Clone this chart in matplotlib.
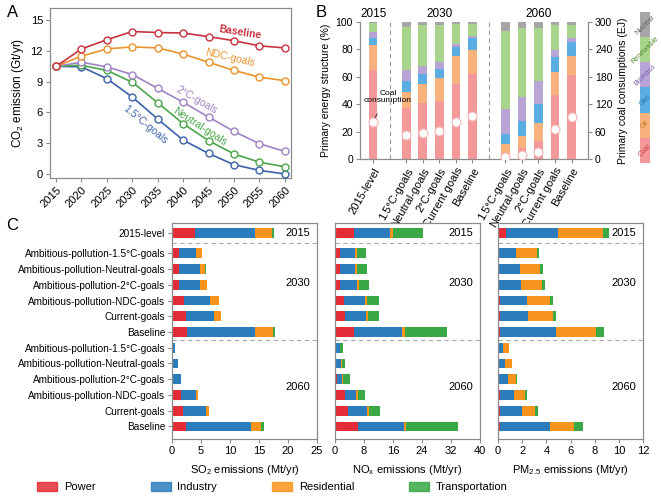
import matplotlib
matplotlib.use('Agg')
import matplotlib.pyplot as plt
import matplotlib.patches as mpatches
import numpy as np

plt.rcParams['font.family'] = ['Liberation Sans', 'DejaVu Sans']
plt.rcParams['mathtext.default'] = 'regular'
plt.rcParams['font.size'] = 8

# ---------------- data: panel A ----------------
years = [2015, 2020, 2025, 2030, 2035, 2040, 2045, 2050, 2055, 2060]
co2_baseline = [10.5, 12.2, 13.1, 13.9, 13.8, 13.75, 13.4, 13.0, 12.5, 12.3]
co2_ndc = [10.5, 11.5, 12.2, 12.4, 12.3, 11.7, 10.9, 10.1, 9.45, 9.1]
co2_2c = [10.5, 10.9, 10.45, 9.7, 8.35, 7.0, 5.55, 4.15, 2.95, 2.2]
co2_neutral = [10.5, 10.6, 10.1, 8.95, 6.95, 4.9, 3.25, 1.95, 1.15, 0.7]
co2_15c = [10.5, 10.45, 9.3, 7.5, 5.35, 3.3, 2.0, 0.9, 0.35, 0.0]

# ---------------- data: panel B ----------------
b_labels = ['2015-level',
            '1.5°C-goals', 'Neutral-goals', '2°C-goals', 'Current goals', 'Baseline',
            '1.5°C-goals', 'Neutral-goals', '2°C-goals', 'Current goals', 'Baseline']
fuels = ['Coal', 'Oil', 'Gas', 'Biomass', 'Renewable', 'Nuclear']
share_coal = [65, 37.5, 41, 42, 55, 62, 4.4, 8, 12.8, 46.7, 61.3]
share_oil = [18, 11.5, 14, 17, 20, 17.4, 6.6, 9, 13.8, 16.7, 13.7]
share_gas = [5.4, 8, 7, 7, 7, 9, 7.4, 11, 13.4, 11.2, 10.5]
share_biomass = [4.3, 8, 6, 4.7, 2, 1.2, 18.2, 17.5, 17, 4.8, 2.5]
share_renew = [6.3, 31.4, 29.6, 26.9, 14.3, 8.7, 56.9, 50.5, 39, 18.2, 9.6]
share_nuclear = [1.0, 3.6, 2.4, 2.4, 1.7, 1.7, 6.5, 4, 4, 2.4, 2.4]
coal_use = [80, 53, 58, 61, 80, 94, 5, 9, 15, 65, 93]

# ---------------- data: panel C ----------------
c_labels = ['2015-level',
            'Ambitious-pollution-1.5°C-goals', 'Ambitious-pollution-Neutral-goals',
            'Ambitious-pollution-2°C-goals', 'Ambitious-pollution-NDC-goals',
            'Current-goals', 'Baseline',
            'Ambitious-pollution-1.5°C-goals', 'Ambitious-pollution-Neutral-goals',
            'Ambitious-pollution-2°C-goals', 'Ambitious-pollution-NDC-goals',
            'Current-goals', 'Baseline']
sectors = ['Power', 'Industry', 'Residential', 'Transportation']

so2_power = [3.9, 1.15, 1.15, 1.15, 2.1, 2.35, 2.6, 0.05, 0.05, 0.05, 1.5, 1.9, 2.5]
so2_industry = [10.35, 3.05, 3.6, 3.75, 4.4, 4.85, 11.65, 0.45, 0.95, 1.5, 2.64, 4.0, 11.2]
so2_resid = [3.0, 0.9, 1.0, 1.1, 1.55, 1.25, 3.15, 0.0, 0.0, 0.0, 0.36, 0.5, 1.7]
so2_trans = [0.4, 0.05, 0.05, 0.05, 0.05, 0.05, 0.4, 0.0, 0.0, 0.0, 0.0, 0.0, 0.5]

nox_power = [5.2, 1.4, 1.4, 1.4, 2.6, 2.75, 5.2, 0.3, 0.3, 0.65, 2.75, 3.5, 6.4]
nox_industry = [10.0, 4.1, 4.2, 4.7, 5.6, 5.75, 13.2, 1.1, 1.45, 1.25, 3.05, 5.2, 12.6]
nox_resid = [0.9, 0.6, 0.6, 0.5, 0.6, 0.6, 0.8, 0.1, 0.15, 0.4, 0.5, 0.7, 0.5]
nox_trans = [8.1, 2.45, 2.6, 2.8, 3.2, 3.0, 11.6, 0.7, 0.95, 1.75, 2.1, 2.9, 14.5]

pm_power = [0.66, 0.05, 0.05, 0.05, 0.2, 0.2, 0.2, 0.02, 0.02, 0.02, 0.15, 0.2, 0.2]
pm_industry = [4.34, 1.45, 1.8, 1.85, 2.2, 2.3, 4.6, 0.38, 0.58, 0.78, 1.2, 1.8, 4.1]
pm_resid = [3.65, 1.7, 1.6, 1.75, 1.9, 2.05, 3.3, 0.5, 0.55, 0.7, 0.85, 1.05, 1.95]
pm_trans = [0.5, 0.2, 0.25, 0.25, 0.25, 0.25, 0.7, 0.0, 0.05, 0.1, 0.2, 0.25, 0.8]

# ---------------- styling ----------------
spine_col = '#8c8c8c'
line_cols = {'Baseline': '#c8323f', 'NDC-goals': '#e8932c', '2°C-goals': '#a083c4',
             'Neutral-goals': '#4aa64a', '1.5°C-goals': '#3b62a8'}
fuel_cols = ['#f4999a', '#f7b27e', '#5aaee3', '#b8a5d6', '#a9d48b', '#a6a6a6']
fuel_text_cols = ['#c93a40', '#c97422', '#2a78b4', '#7a5fa8', '#4f8e30', '#5d5d5d']
sector_cols = ['#e32c35', '#2b7cbd', '#f7941d', '#3aa845']

fig = plt.figure(figsize=(6.61, 4.96), dpi=100)


def style_spines(ax, which=('left', 'right', 'top', 'bottom')):
    for side, sp in ax.spines.items():
        sp.set_visible(side in which)
        sp.set_color(spine_col)
        sp.set_linewidth(0.9)
    ax.tick_params(color=spine_col, length=3, width=0.8, labelsize=8, pad=2)


# ---------------- panel A ----------------
axA = fig.add_axes([0.0756, 0.641, 0.3646, 0.343])
series = [('Baseline', co2_baseline), ('NDC-goals', co2_ndc), ('2°C-goals', co2_2c),
          ('Neutral-goals', co2_neutral), ('1.5°C-goals', co2_15c)]
for name, vals in series[::-1]:
    axA.plot(years, vals, color=line_cols[name], lw=1.2, marker='o', ms=5,
             mfc='white', mec=line_cols[name], mew=1.0, zorder=3)
axA.set_xlim(2013.8, 2061.2)
axA.set_ylim(-0.4, 16.2)
axA.set_yticks([0, 3, 6, 9, 12, 15])
axA.set_xticks(years)
axA.set_xticklabels([str(y) for y in years], rotation=45, ha='right', rotation_mode='anchor')
axA.set_ylabel('CO$_2$ emission (Gt/yr)', fontsize=8.5, labelpad=3)
style_spines(axA)
axA.tick_params(labelsize=8)

label_pos = {'Baseline': (2051.1, 13.8, -9), 'NDC-goals': (2049.2, 11.3, -13),
             '2°C-goals': (2042.7, 7.2, -30), 'Neutral-goals': (2043.3, 4.6, -33),
             '1.5°C-goals': (2032.5, 4.8, -40)}
for name, (x, y, rot) in label_pos.items():
    axA.text(x, y, name, color=line_cols[name], rotation=rot, ha='center', va='center',
             fontsize=7.5, fontweight='bold' if name == 'Baseline' else 'normal')

# ---------------- panel B ----------------
axB = fig.add_axes([0.5446, 0.6794, 0.345, 0.2762])
xb = np.array([0, 2, 3, 4, 5, 6, 8, 9, 10, 11, 12])
shares = [share_coal, share_oil, share_gas, share_biomass, share_renew, share_nuclear]
bottom = np.zeros(len(xb))
for vals, col in zip(shares, fuel_cols):
    axB.bar(xb, vals, width=0.52, bottom=bottom, color=col, zorder=2)
    bottom += np.array(vals)
axB.set_xlim(-0.8, 13.0)
axB.set_ylim(0, 100)
axB.set_yticks([0, 20, 40, 60, 80, 100])
axB.set_xticks(xb)
axB.set_xticklabels(b_labels, rotation=60, ha='right', rotation_mode='anchor', fontsize=6.5)
axB.set_ylabel('Primary energy structure (%)', fontsize=7.5, labelpad=3)
style_spines(axB, ('left', 'bottom'))
axB.tick_params(axis='y', labelsize=7.5)
for xs in (1, 7):
    axB.plot([xs, xs], [0, 101], ls=(0, (4, 3)), color='#9a9a9a', lw=0.8,
             clip_on=False, zorder=1)
for xp, yr in ((0, '2015'), (4, '2030'), (10, '2060')):
    axB.text(xp, 101.5, yr, ha='center', va='bottom', fontsize=8.5)

axB2 = axB.twinx()
axB2.set_ylim(0, 300)
axB2.set_yticks([0, 60, 120, 180, 240, 300])
axB2.plot(xb, coal_use, 'o', ms=6.5, mfc='white', mec='#f4b7b7', mew=0.8, zorder=5)
style_spines(axB2, ('right',))
axB2.tick_params(axis='y', labelsize=7.5)
axB2.set_ylabel('Primary coal consumptions (EJ)', fontsize=7.5, labelpad=4)
axB2.annotate('Coal\nconsumption', xy=(xb[0], coal_use[0] + 5), xytext=(0.9, 135),
              textcoords='data', ha='center', va='center', fontsize=6, linespacing=0.95,
              arrowprops=dict(arrowstyle='-', color='#333333', lw=0.7,
                              shrinkA=6, shrinkB=1))

# fuel colour key
axK = fig.add_axes([0.9685, 0.6714, 0.0151, 0.3044])
for i, (name, col, tcol) in enumerate(zip(fuels, fuel_cols, fuel_text_cols)):
    axK.bar(0, 1, bottom=i, width=1, color=col)
    axK.text(0, i + 0.5, name, rotation=45, ha='center', va='center', fontsize=5.2,
             color=tcol, clip_on=False)
axK.set_xlim(-0.5, 0.5)
axK.set_ylim(0, len(fuels))
axK.axis('off')

# ---------------- panel C ----------------
yc = np.array([0] + list(np.arange(6) + 1.3) + list(np.arange(6) + 7.3))
c_sets = [
    ([so2_power, so2_industry, so2_resid, so2_trans], 25, [0, 5, 10, 15, 20, 25],
     'SO$_2$ emissions (Mt/yr)', 0.2602),
    ([nox_power, nox_industry, nox_resid, nox_trans], 40, [0, 8, 16, 24, 32, 40],
     'NO$_x$ emissions (Mt/yr)', 0.5068),
    ([pm_power, pm_industry, pm_resid, pm_trans], 12, [0, 2, 4, 6, 8, 10, 12],
     'PM$_{2.5}$ emissions (Mt/yr)', 0.7534),
]
for k, (parts, xmax, ticks, xlabel, left) in enumerate(c_sets):
    ax = fig.add_axes([left, 0.1149, 0.2194, 0.4355])
    left_acc = np.zeros(len(yc))
    for vals, col in zip(parts, sector_cols):
        ax.barh(yc, vals, left=left_acc, height=0.62, color=col, zorder=2)
        left_acc += np.array(vals)
    ax.set_xlim(0, xmax)
    ax.set_ylim(13.1, -0.63)
    ax.set_xticks(ticks)
    ax.set_xlabel(xlabel, fontsize=8, labelpad=5)
    style_spines(ax)
    ax.tick_params(axis='x', labelsize=8)
    if k == 0:
        ax.set_yticks(yc)
        ax.set_yticklabels(c_labels, fontsize=7.2)
    else:
        ax.set_yticks([])
    for yl in (0.65, 6.8):
        ax.axhline(yl, ls=(0, (4, 3)), color='#a8a8a8', lw=0.8, zorder=1)
    for yv, yr in ((0, '2015'), (3.2, '2030'), (9.8, '2060')):
        ax.text(0.865, yv, yr, transform=ax.get_yaxis_transform(), ha='center',
                va='center', fontsize=8)

handles = [mpatches.Patch(color=c, alpha=0.85) for c in sector_cols]
fig.legend(handles, sectors, loc='center left', bbox_to_anchor=(0.0565, 0.018), ncol=4,
           frameon=False, fontsize=8, handlelength=1.8, handleheight=0.8,
           columnspacing=4.95, handletextpad=0.6, borderaxespad=0, borderpad=0)

# panel letters
fig.text(0.010, 0.975, 'A', fontsize=12, va='center')
fig.text(0.478, 0.975, 'B', fontsize=12, va='center')
fig.text(0.010, 0.546, 'C', fontsize=12, va='center')

fig.savefig('out.png', dpi=100)
